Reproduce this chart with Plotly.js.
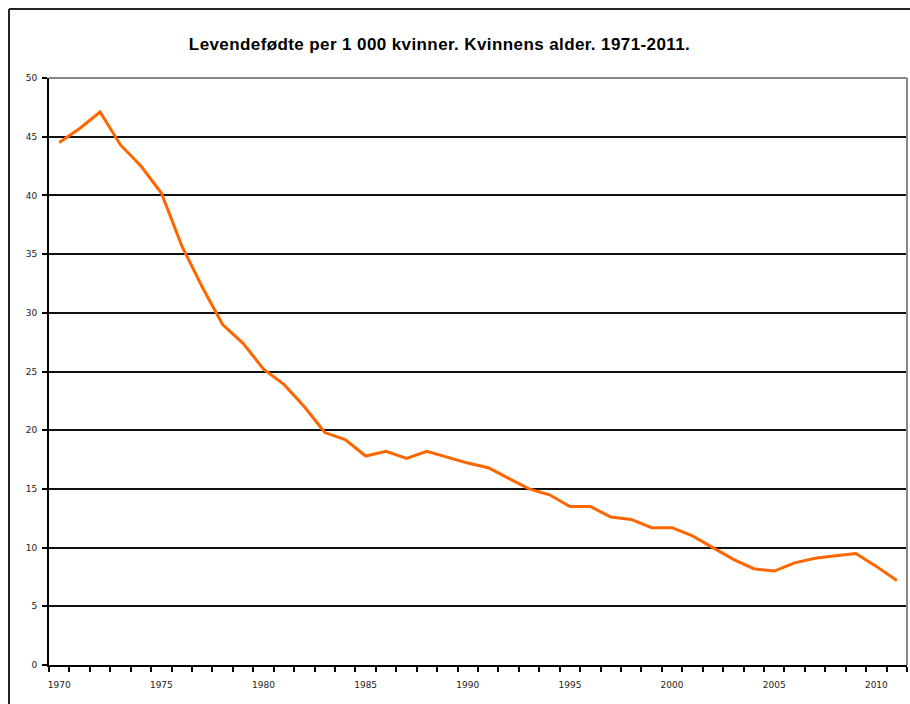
<!DOCTYPE html>
<html>
<head>
<meta charset="utf-8">
<script src="https://cdn.plot.ly/plotly-3.0.1.min.js"></script>
<style>
html,body{margin:0;padding:0;background:#fff;}
#chart{width:910px;height:704px;}
#chart .gtitle{letter-spacing:0.4px;}
</style>
</head>
<body>
<div id="chart"></div>
<script>
var years = [1970,1971,1972,1973,1974,1975,1976,1977,1978,1979,1980,1981,1982,1983,1984,1985,1986,1987,1988,1989,1990,1991,1992,1993,1994,1995,1996,1997,1998,1999,2000,2001,2002,2003,2004,2005,2006,2007,2008,2009,2010,2011];
var births = [44.5,45.7,47.1,44.3,42.5,40.2,35.7,32.2,29.0,27.4,25.2,23.9,22.0,19.8,19.2,17.8,18.2,17.6,18.2,17.7,17.2,16.8,15.9,15.0,14.5,13.5,13.5,12.6,12.4,11.7,11.7,11.0,10.0,9.0,8.2,8.0,8.7,9.1,9.3,9.5,8.4,7.2];
var xTickVals = [1970,1975,1980,1985,1990,1995,2000,2005,2010];
var xTickText = ['1970','1975','1980','1985','1990','1995','2000','2005','2010'];
var titleText = 'Levendefødte per 1 000 kvinner. Kvinnens alder. 1971-2011.';

var trace = {
  x: years, y: births, type: 'scatter', mode: 'lines',
  line: {color: '#FF6600', width: 3}, hoverinfo: 'x+y'
};

var layout = {
  width: 910, height: 704,
  margin: {l: 49, r: 3, t: 78, b: 39, pad: 0},
  paper_bgcolor: '#ffffff', plot_bgcolor: '#ffffff',
  showlegend: false,
  title: {text: titleText, x: 0.483, xanchor: 'center', y: 0.937, yanchor: 'middle',
          font: {family: 'Liberation Sans, Arial, sans-serif', size: 17, color: '#000', weight: 'bold'}},
  xaxis: {
    range: [1969.5, 2011.5], tickmode: 'array', tickvals: xTickVals, ticktext: xTickText,
    ticks: '', showgrid: false, zeroline: false,
    showline: true, linecolor: '#000', linewidth: 2,
    tickfont: {family: 'DejaVu Sans, Verdana, sans-serif', size: 9, color: '#222'},
    ticklabelstandoff: 10,
    minor: {tick0: 1969.5, dtick: 1, ticks: 'outside', ticklen: 5, tickwidth: 2, tickcolor: '#000', showgrid: false}
  },
  yaxis: {
    range: [0, 50], tickmode: 'linear', tick0: 0, dtick: 5,
    ticks: 'outside', ticklen: 5, tickwidth: 2, tickcolor: '#000',
    showgrid: true, gridcolor: '#111', gridwidth: 2, zeroline: false,
    showline: true, linecolor: '#000', linewidth: 2,
    tickfont: {family: 'DejaVu Sans, Verdana, sans-serif', size: 9, color: '#222'},
    ticklabelstandoff: 3
  },
  shapes: [
    {type: 'line', xref: 'paper', yref: 'paper', x0: 0, x1: 1, y0: 1, y1: 1,
     line: {color: '#888', width: 2}},
    {type: 'line', xref: 'paper', yref: 'paper', x0: 1, x1: 1, y0: 0, y1: 1,
     line: {color: '#888', width: 2}},
    {type: 'line', xref: 'paper', yref: 'paper', x0: -40/858, x1: 1.01, y0: (704-39-9)/587, y1: (704-39-9)/587,
     line: {color: '#222', width: 2}},
    {type: 'line', xref: 'paper', yref: 'paper', x0: -40/858, x1: -40/858, y0: -0.1, y1: (704-39-9)/587,
     line: {color: '#222', width: 2}}
  ]
};

Plotly.newPlot('chart', [trace], layout, {displayModeBar: false, staticPlot: true});
</script>
</body>
</html>
